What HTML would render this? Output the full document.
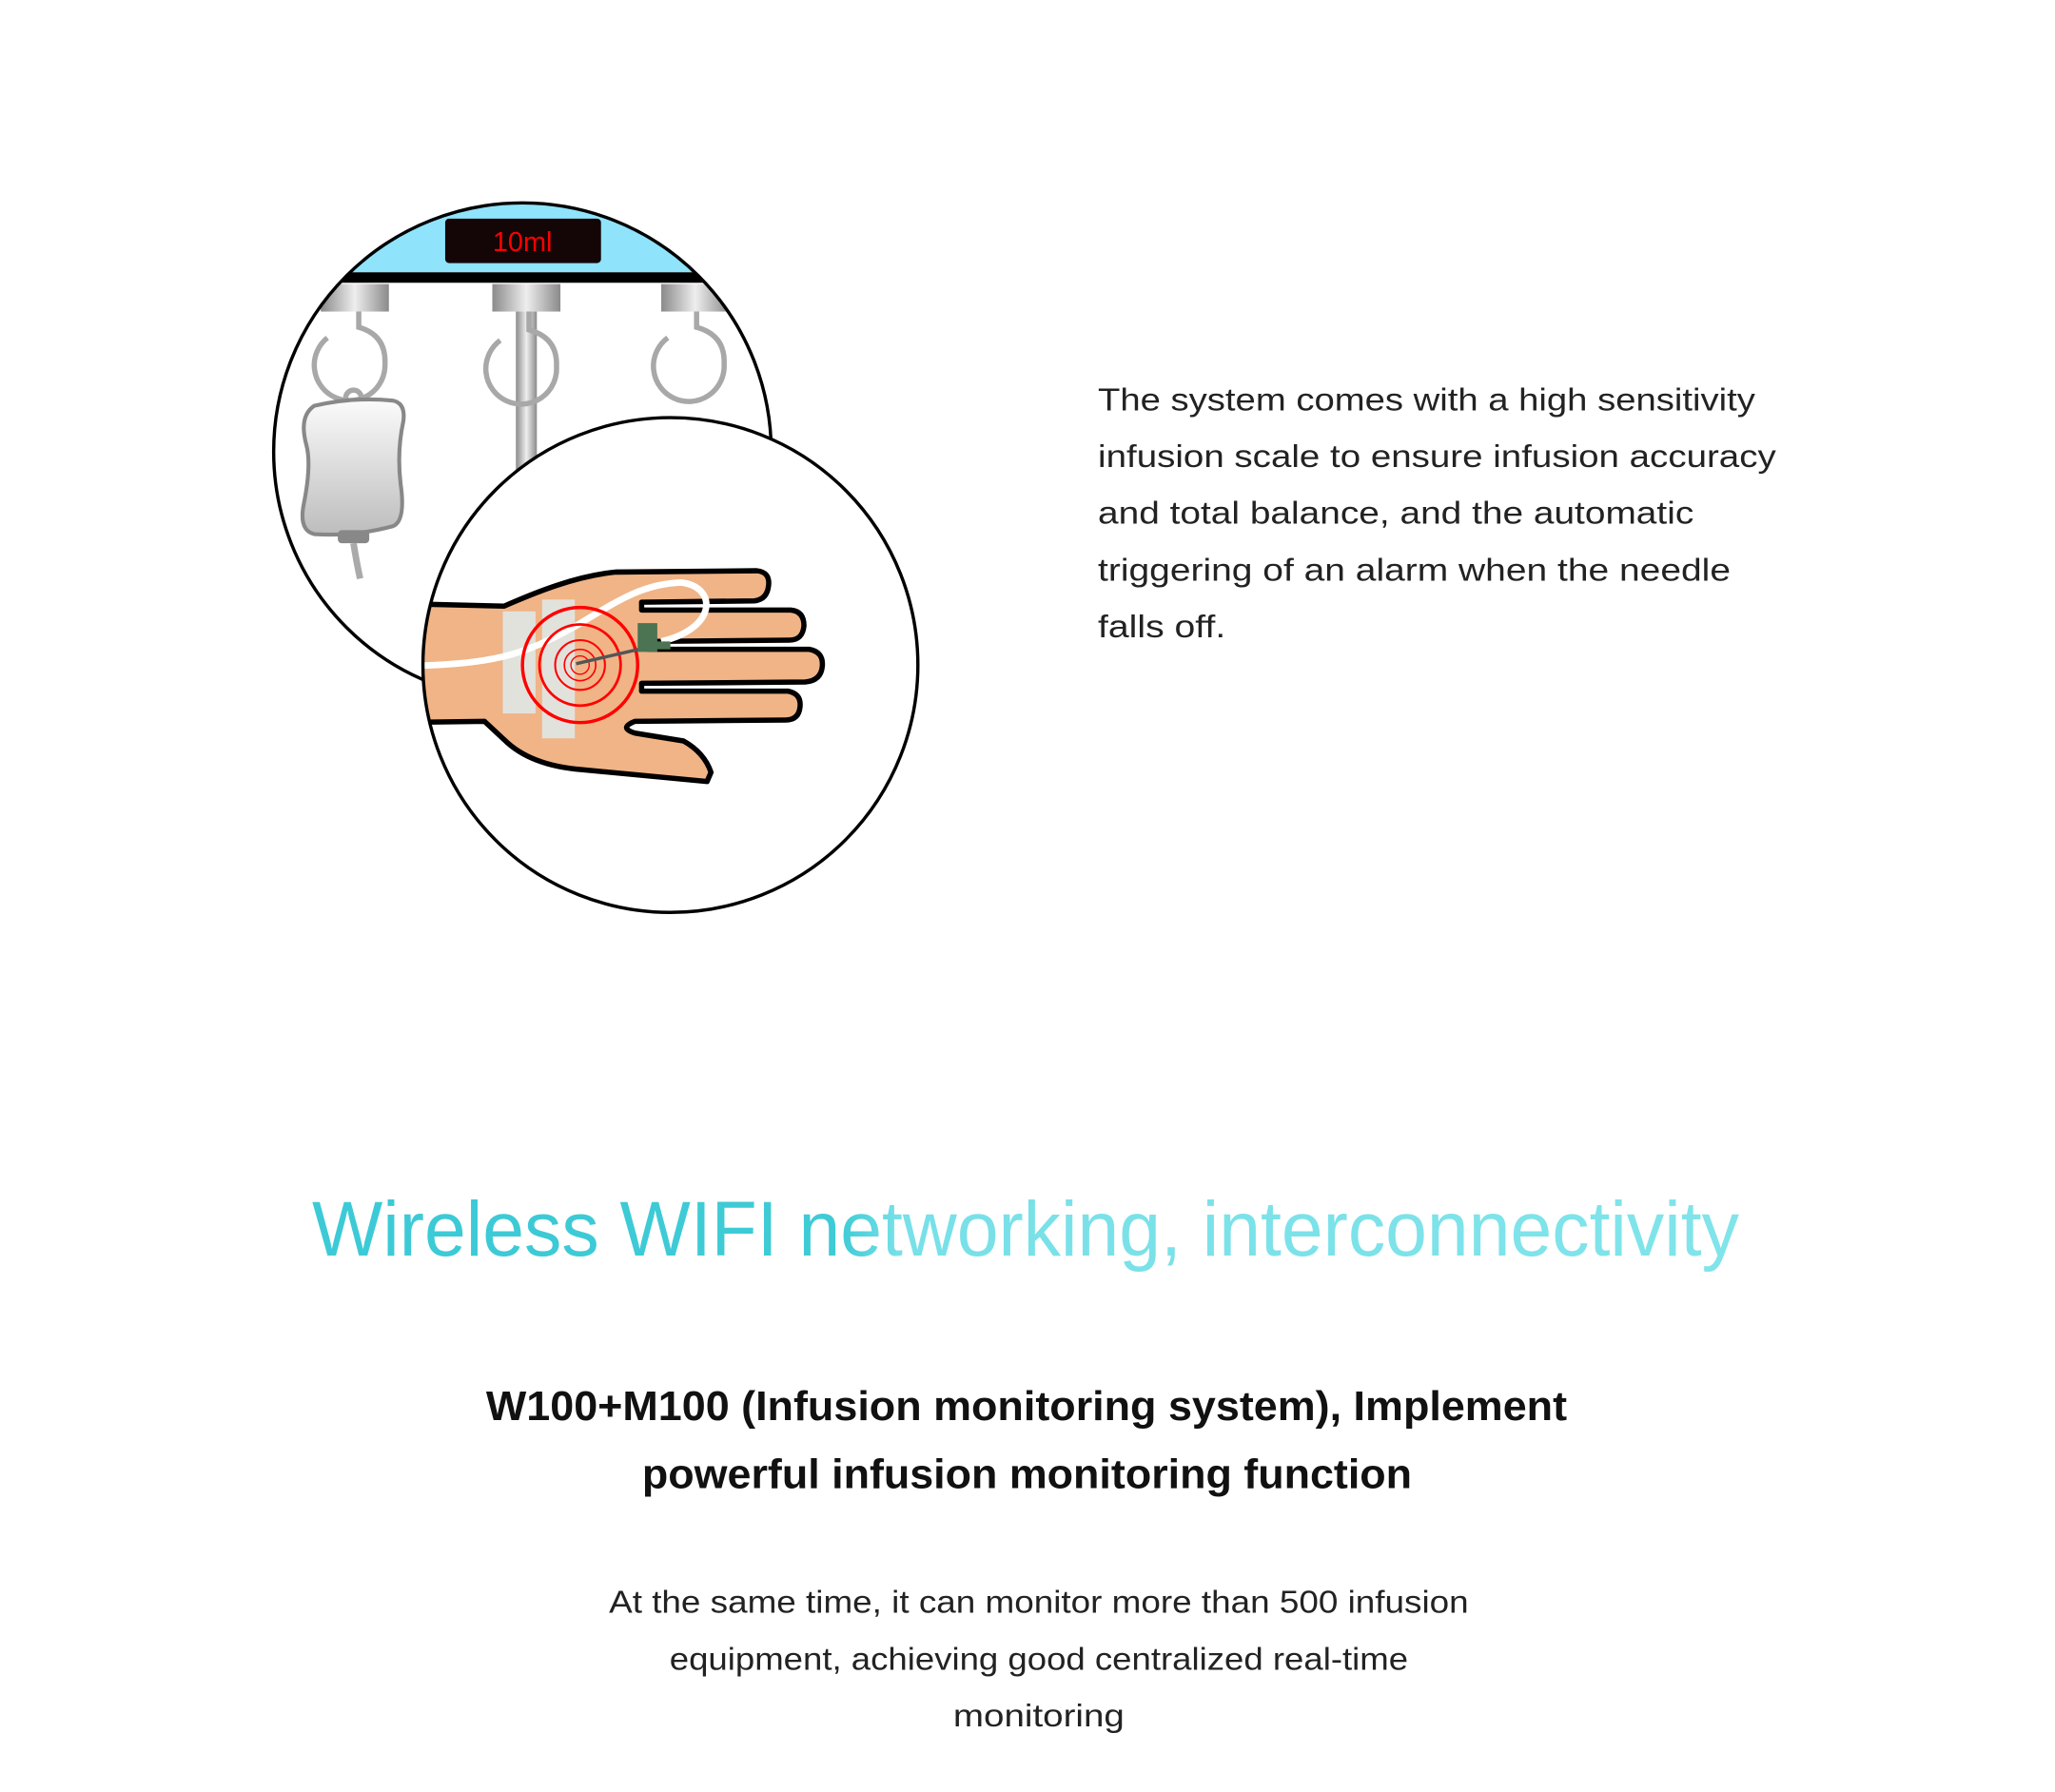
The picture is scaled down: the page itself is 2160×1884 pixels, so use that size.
<!DOCTYPE html>
<html><head><meta charset="utf-8"><style>
html,body{margin:0;padding:0;background:#fff;}
svg{display:block;}
</style></head><body>
<svg width="2160" height="1884" viewBox="0 0 2160 1884" xmlns="http://www.w3.org/2000/svg">
<defs>
<linearGradient id="metal" x1="0" x2="1" y1="0" y2="0">
<stop offset="0" stop-color="#8a8a8a"/><stop offset="0.5" stop-color="#eeeeee"/><stop offset="1" stop-color="#8a8a8a"/>
</linearGradient>
<linearGradient id="bag" x1="0" x2="0" y1="0" y2="1">
<stop offset="0" stop-color="#fbfbfb"/><stop offset="1" stop-color="#bdbdbd"/>
</linearGradient>
<linearGradient id="head" gradientUnits="userSpaceOnUse" x1="330" x2="1840" y1="0" y2="0">
<stop offset="0" stop-color="#3ccad6"/><stop offset="0.37" stop-color="#3ecbd6"/><stop offset="0.41" stop-color="#78e0e8"/><stop offset="1" stop-color="#80e4ea"/>
</linearGradient>
<clipPath id="cb"><circle cx="399" cy="345" r="189"/></clipPath>
<clipPath id="cf"><circle cx="512" cy="508" r="188"/></clipPath>
</defs>
<g transform="scale(0.994)">
<g transform="scale(1.3846)">
<circle cx="399" cy="345" r="190" fill="#fff"/>
<g clip-path="url(#cb)">
<rect x="200" y="150" width="400" height="58" fill="#8fe3fb"/>
<rect x="200" y="208" width="400" height="8" fill="#000"/>
<rect x="245" y="217" width="52" height="21" fill="url(#metal)"/>
<rect x="376" y="217" width="52" height="21" fill="url(#metal)"/>
<rect x="505" y="217" width="52" height="21" fill="url(#metal)"/>
<rect x="394" y="238" width="16" height="130" fill="url(#metal)"/>
<g fill="none" stroke="#a8a8a8" stroke-width="4">
<path d="M274,238 V250 Q295,256 294,278 A27,27 0 1 1 250,258"/>
<path d="M404,238 V252 Q426,258 425,280 A27,27 0 1 1 382,260"/>
<path d="M532,238 V250 Q554,256 553,278 A27,27 0 1 1 510,258"/>
<circle cx="270" cy="304" r="6"/>
</g>
<path d="M240,310 Q270,303 300,306 Q310,308 308,322 Q303,345 306,370 Q310,398 300,402 Q270,410 240,408 Q228,405 232,385 Q238,355 234,340 Q228,318 240,310 Z" fill="url(#bag)" stroke="#888" stroke-width="3"/>
<rect x="258" y="405" width="24" height="10" rx="3" fill="#888"/>
<path d="M270,415 Q272,428 275,442" stroke="#aaa" stroke-width="5" fill="none"/>
</g>
<circle cx="399" cy="345" r="190" fill="none" stroke="#000" stroke-width="2.5"/>
<rect x="340" y="167" width="119" height="34" rx="3" fill="#140606"/>
<text x="399" y="192" font-family="Liberation Sans, sans-serif" font-size="21" fill="#f00" text-anchor="middle">10ml</text>
<circle cx="512" cy="508" r="189" fill="#fff"/>
<g clip-path="url(#cf)">
<path d="M300,461 L385,463 C410,452 440,440 470,437 L578,436 Q588,437 587,447 Q586,458 576,459 L490,460 L490,466 L604,466 Q614,467 614,478 Q613,489 603,489 L495,490 L495,496 L618,496 Q629,498 628,509 Q627,520 615,521 L490,522 L490,528 L602,528 Q612,530 611,540 Q610,550 600,550 L485,551 Q472,556 485,560 L522,566 Q538,575 543,590 L540,597 L445,588 Q405,585 385,565 L370,551 L300,552 Z" fill="#f0b487" stroke="#000" stroke-width="4" stroke-linejoin="round"/>
<rect x="384" y="467" width="25" height="78" fill="#e2e2dd"/>
<rect x="414" y="458" width="25" height="106" fill="#e2e2dd"/>
<path d="M300,509 C380,508 400,500 440,478 C470,460 490,446 520,445 C548,448 548,480 505,490" stroke="#fff" stroke-width="5" fill="none"/>
<g fill="none" stroke="#f00">
<circle cx="443" cy="508" r="44" stroke-width="2.5"/>
<circle cx="443" cy="508" r="31" stroke-width="2"/>
<circle cx="443" cy="508" r="19" stroke-width="1.5"/>
<circle cx="443" cy="508" r="12" stroke-width="1.2"/>
<circle cx="443" cy="508" r="7" stroke-width="1"/>
</g>
<line x1="440" y1="507" x2="492" y2="495" stroke="#555" stroke-width="2.5"/>
<rect x="487" y="476" width="15" height="22" fill="#4c7352"/>
<rect x="500" y="490" width="12" height="6" fill="#4c7352"/>
</g>
<circle cx="512" cy="508" r="189" fill="none" stroke="#000" stroke-width="2.5"/>
</g>
<g font-family="Liberation Sans, sans-serif" font-size="34" fill="#222">
<text x="1161" y="434" textLength="695" lengthAdjust="spacingAndGlyphs">The system comes with a high sensitivity</text>
<text x="1161" y="494" textLength="717" lengthAdjust="spacingAndGlyphs">infusion scale to ensure infusion accuracy</text>
<text x="1161" y="554" textLength="630" lengthAdjust="spacingAndGlyphs">and total balance, and the automatic</text>
<text x="1161" y="614" textLength="669" lengthAdjust="spacingAndGlyphs">triggering of an alarm when the needle</text>
<text x="1161" y="674" textLength="135" lengthAdjust="spacingAndGlyphs">falls off.</text>
</g>
<text x="330" y="1328" font-family="Liberation Sans, sans-serif" font-size="82" fill="url(#head)" textLength="1509" lengthAdjust="spacingAndGlyphs">Wireless WIFI networking, interconnectivity</text>
<g font-family="Liberation Sans, sans-serif" font-size="44" font-weight="bold" fill="#111">
<text x="514" y="1502" textLength="1143" lengthAdjust="spacingAndGlyphs">W100+M100 (Infusion monitoring system), Implement</text>
<text x="679" y="1574" textLength="814" lengthAdjust="spacingAndGlyphs">powerful infusion monitoring function</text>
</g>
<g font-family="Liberation Sans, sans-serif" font-size="34" fill="#222">
<text x="644" y="1706" textLength="909" lengthAdjust="spacingAndGlyphs">At the same time, it can monitor more than 500 infusion</text>
<text x="708" y="1766" textLength="781" lengthAdjust="spacingAndGlyphs">equipment, achieving good centralized real-time</text>
<text x="1008" y="1826" textLength="181" lengthAdjust="spacingAndGlyphs">monitoring</text>
</g>
</g>
</svg>
</body></html>
